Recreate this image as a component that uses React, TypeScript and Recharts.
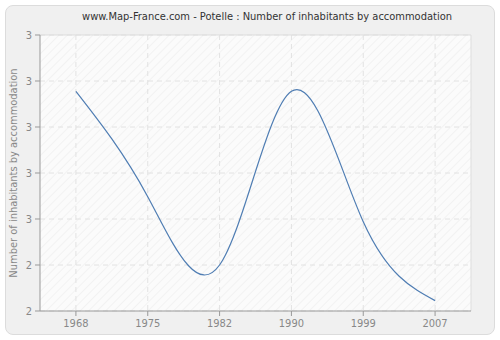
import React from "react";
import {
  LineChart,
  Line,
  XAxis,
  YAxis,
  CartesianGrid,
  ReferenceLine,
} from "recharts";

const years = ["1968", "1975", "1982", "1990", "1999", "2007"];
const values = [3.155, 2.697, 2.4, 3.155, 2.588, 2.245];
const yTicks = [2.2, 2.4, 2.6, 2.8, 3.0, 3.2, 3.4];
const xTicks = [0, 1, 2, 3, 4, 5];

const data = years.map((y, i) => ({ i, year: y, value: values[i] }));

const FONT = "'DejaVu Sans Condensed', 'DejaVu Sans', Verdana, sans-serif";

export default function App() {
  return (
    <div
      style={{
        position: "absolute",
        left: 0,
        top: 0,
        width: 500,
        height: 340,
        background: "#ffffff",
      }}
    >
      <div
        style={{
          position: "absolute",
          left: 5,
          top: 5,
          width: 488,
          height: 328,
          background: "#f0f0f0",
          border: "1px solid #dcdcdc",
          borderRadius: 8,
        }}
      />
      <div
        style={{
          position: "absolute",
          left: 0,
          top: 10,
          width: 534,
          textAlign: "center",
          fontFamily: FONT,
          fontSize: 11,
          color: "#333",
          whiteSpace: "nowrap",
        }}
      >
        www.Map-France.com - Potelle : Number of inhabitants by accommodation
      </div>
      <div style={{ position: "absolute", left: 0, top: 0 }}>
        <LineChart
          width={500}
          height={340}
          data={data}
          margin={{ top: 35, right: 29, bottom: 0, left: 0 }}
        >
          <defs>
            <pattern
              id="hatch"
              width="6"
              height="6"
              patternUnits="userSpaceOnUse"
              patternTransform="rotate(45)"
            >
              <rect width="6" height="6" fill="#fbfbfb" />
              <line x1="0" y1="0" x2="0" y2="6" stroke="#f2f2f2" strokeWidth="2" />
            </pattern>
          </defs>
          <CartesianGrid
            stroke="#e2e2e2"
            strokeDasharray="5 4"
            fill="url(#hatch)"
            fillOpacity={1}
            verticalValues={xTicks}
            horizontalValues={yTicks}
          />
          <ReferenceLine y={3.4} stroke="#dddddd" strokeWidth={1} />
          <ReferenceLine x={5.5} stroke="#dddddd" strokeWidth={1} />
          <XAxis
            dataKey="i"
            type="number"
            domain={[-0.5, 5.5]}
            ticks={xTicks}
            tickFormatter={(v: number) => years[v]}
            height={29}
            stroke="#999999"
            tick={{ fill: "#888888", fontSize: 11, fontFamily: FONT }}
            tickSize={5}
            tickMargin={3}
            allowDataOverflow
          />
          <YAxis
            type="number"
            domain={[2.2, 3.4]}
            ticks={yTicks}
            tickFormatter={(v: number) => String(Math.round(v))}
            width={40}
            stroke="#999999"
            tick={{ fill: "#888888", fontSize: 11, fontFamily: FONT }}
            tickSize={5}
            tickMargin={3}
            allowDataOverflow
            label={{
              value: "Number of inhabitants by accommodation",
              angle: -90,
              position: "insideLeft",
              dx: 8,
              style: {
                fill: "#888888",
                fontSize: 11,
                fontFamily: FONT,
                textAnchor: "middle",
              },
            }}
          />
          <Line
            type="natural"
            dataKey="value"
            stroke="#4f7db3"
            strokeWidth={1.2}
            dot={false}
            isAnimationActive={false}
          />
        </LineChart>
      </div>
    </div>
  );
}
